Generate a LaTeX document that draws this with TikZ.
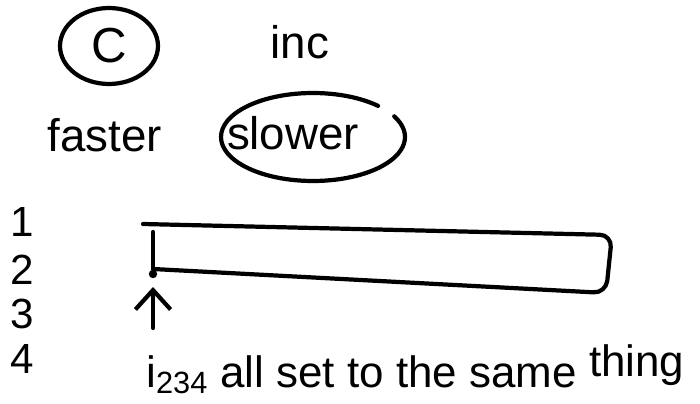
\documentclass[tikz,border=0pt]{standalone}
\usepackage{fontspec}
\setmainfont{Liberation Sans}
\usetikzlibrary{shapes.geometric, arrows.meta, positioning}

\begin{document}
\begin{tikzpicture}[
        x=0.02cm, y=0.02cm,
        ink/.style={draw=black, line width=2.4pt, line cap=round, line join=round},
        word/.style={inner sep=0pt, font=\fontsize{26}{30}\selectfont},
        ring/.style={ellipse, draw=black, line width=2.4pt, inner sep=0pt, minimum width=1.96cm, minimum height=1.52cm, font=\fontsize{28}{32}\selectfont},
        rowlabel/.style={inner sep=0pt, font=\fontsize{24}{28}\selectfont},
        note/.style={inner sep=0pt, anchor=base west, font=\fontsize{25}{29}\selectfont},
        pointer/.style={-{Straight Barb[length=11pt, width=20pt]}, line width=2.4pt, line cap=round}
        ]
        \useasboundingbox (0,0) rectangle (700,403);

        % Top: which one is faster
        \node (cring) [ring] at (109,357) {C};
        \node (inc) [word] at (300,361) {inc};
        \node (faster) [word] at (105,268) {faster};
        \node (slower) [word] at (293,270) {slower};
        \coordinate (slowring) at (313,266);
        \draw [ink] ([shift={(45:92 and 44)}]slowring) arc [start angle=45, end angle=388, x radius=92, y radius=44];

        % Row numbers
        \foreach \n/\y in {1/181, 2/133, 3/89, 4/44}
            \node (row\n) [rowlabel] at (22,\y) {\n};

        % The bar
        \coordinate (barnw) at (143,179);
        \coordinate (barne) at (612,168);
        \coordinate (barse) at (606,110);
        \coordinate (barsw) at (153,134);
        \draw [ink, rounded corners=7pt] (barnw) -- (barne) -- (barse) -- (barsw);
        \draw [ink] (153,171) -- (barsw);
        \fill (153,129) circle (2.4pt);

        % Pointer and note
        \node (note) [note] at (146,16) {i\textsubscript{234} all set to the same \raisebox{6pt}{thing}};
        \coordinate (ptail) at (153,75);
        \coordinate (ptip) at (153,116);
        \draw [pointer] (ptail) -- (ptip);
\end{tikzpicture}
\end{document}
